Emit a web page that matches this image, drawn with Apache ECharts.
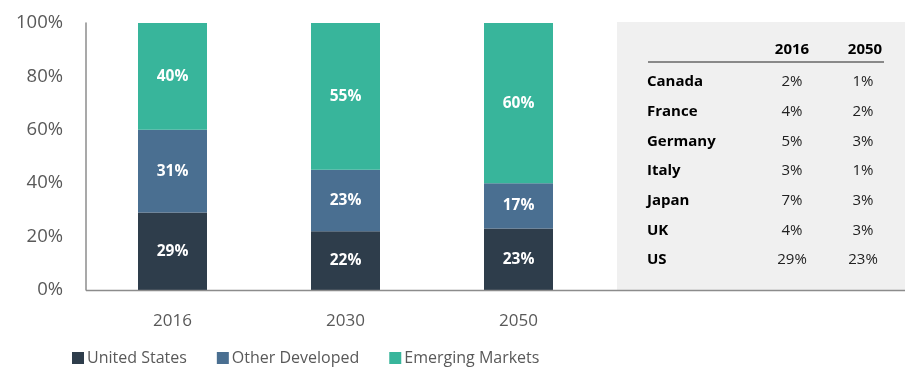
<!DOCTYPE html>
<html>
<head>
<meta charset="utf-8">
<script src="https://cdn.jsdelivr.net/npm/echarts@6/dist/echarts.min.js"></script>
<style>html,body{margin:0;padding:0;background:#fff}#c{width:905px;height:373px}</style>
</head>
<body>
<div id="c"></div>
<script>
var years = ['2016', '2030', '2050'];
var unitedStates = [29, 22, 23];
var otherDeveloped = [31, 23, 17];
var emergingMarkets = [40, 55, 60];
var yTicks = [0, 20, 40, 60, 80, 100];

var tableCountries = ['Canada', 'France', 'Germany', 'Italy', 'Japan', 'UK', 'US'];
var tableYears = ['2016', '2050'];
var share2016 = ['2%', '4%', '5%', '3%', '7%', '4%', '29%'];
var share2050 = ['1%', '2%', '3%', '1%', '3%', '3%', '23%'];

var FONT = '"Open Sans", "Noto Sans", sans-serif';
var colors = ['#2e3d4b', '#4a6f91', '#38b59b'];

var chart = echarts.init(document.getElementById('c'), null, {renderer: 'canvas'});

function lbl() {
  return {show: true, position: 'inside', color: '#fff', fontFamily: FONT, fontSize: 15.5, fontWeight: 'bold',
    formatter: function (p) { return p.value + '%'; }};
}

var graphics = [];
graphics.push({type: 'rect', z: -10, shape: {x: 617, y: 22, width: 288, height: 268}, style: {fill: '#f0f0f0'}, silent: true});
graphics.push({type: 'line', z: 10, shape: {x1: 86, y1: 290.5, x2: 905, y2: 290.5}, style: {stroke: '#8c8c8c', lineWidth: 1.5}});
var colX = [792, 865];
tableYears.forEach(function (y, i) {
  graphics.push({type: 'text', style: {text: y, x: colX[i], y: 50, align: 'center', verticalAlign: 'middle',
    font: 'bold 15px ' + FONT, fill: '#000'}});
});
graphics.push({type: 'line', shape: {x1: 648, y1: 62, x2: 884, y2: 62}, style: {stroke: '#222', lineWidth: 1}});
tableCountries.forEach(function (c, i) {
  var yy = 82 + i * 29.7;
  graphics.push({type: 'text', style: {text: c, x: 647, y: yy, align: 'left', verticalAlign: 'middle',
    font: 'bold 15px ' + FONT, fill: '#000'}});
  graphics.push({type: 'text', style: {text: share2016[i], x: colX[0], y: yy, align: 'center', verticalAlign: 'middle',
    font: '15px ' + FONT, fill: '#222'}});
  graphics.push({type: 'text', style: {text: share2050[i], x: colX[1] - 2, y: yy, align: 'center', verticalAlign: 'middle',
    font: '15px ' + FONT, fill: '#222'}});
});

chart.setOption({
  animation: false,
  color: colors,
  grid: {left: 86, top: 23, width: 519, height: 267, containLabel: false},
  legend: {
    bottom: 2, left: 67, itemWidth: 12, itemHeight: 12, itemGap: 30, icon: 'rect',
    textStyle: {fontFamily: FONT, fontSize: 16, color: '#595959', padding: [0, 0, 0, -2]},
    data: ['United States', 'Other Developed', 'Emerging Markets']
  },
  xAxis: {
    type: 'category', data: years,
    axisLine: {show: false}, axisTick: {show: false},
    axisLabel: {fontFamily: FONT, fontSize: 17, color: '#595959', margin: 23}
  },
  yAxis: {
    type: 'value', min: 0, max: 100, interval: 20,
    axisLine: {show: true, lineStyle: {color: '#8c8c8c', width: 1.5}},
    axisTick: {show: false}, splitLine: {show: false},
    axisLabel: {fontFamily: FONT, fontSize: 18.5, color: '#595959', margin: 23,
      formatter: function (v) { return yTicks.indexOf(v) >= 0 ? v + '%' : ''; }}
  },
  graphic: graphics,
  series: [
    {name: 'United States', type: 'bar', stack: 's', barWidth: 69, data: unitedStates, label: lbl()},
    {name: 'Other Developed', type: 'bar', stack: 's', barWidth: 69, data: otherDeveloped, label: lbl()},
    {name: 'Emerging Markets', type: 'bar', stack: 's', barWidth: 69, data: emergingMarkets, label: lbl()}
  ]
});
</script>
</body>
</html>
